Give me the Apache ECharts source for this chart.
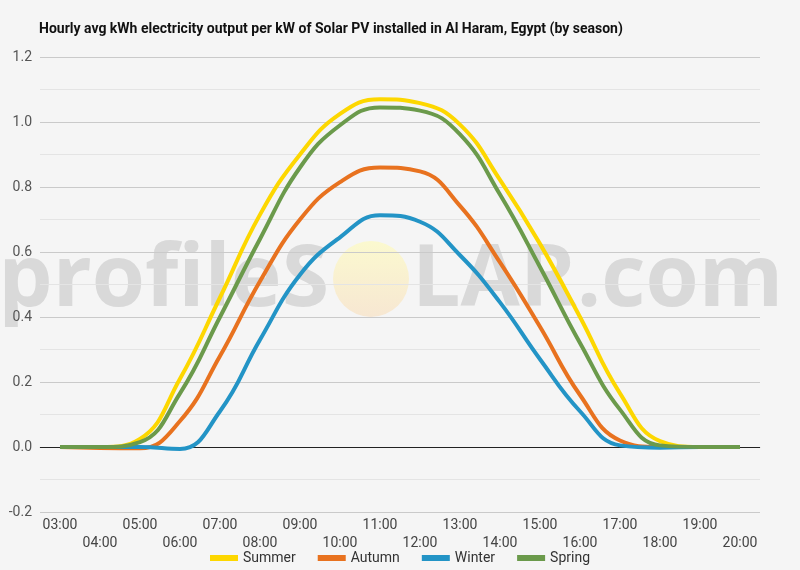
<!DOCTYPE html>
<html>
<head>
<meta charset="utf-8">
<script src="https://cdn.jsdelivr.net/npm/echarts@6/dist/echarts.min.js"></script>
<style>
  html, body { margin: 0; padding: 0; background: #f5f5f5; }
  #chart { width: 800px; height: 570px; }
</style>
</head>
<body>
<div id="chart"></div>
<script>
// hourly averages
const hours = ['03:00', '04:00', '05:00', '06:00', '07:00', '08:00', '09:00', '10:00', '11:00',
    '12:00', '13:00', '14:00', '15:00', '16:00', '17:00', '18:00', '19:00', '20:00'];
const summer = [0, 0, 0.025, 0.21, 0.46, 0.715, 0.90, 1.025, 1.07, 1.058, 0.992, 0.822, 0.625, 0.40, 0.165, 0.018, 0, 0];
const autumn = [0, -0.003, -0.004, 0.08, 0.28, 0.51, 0.70, 0.815, 0.86, 0.848, 0.742, 0.568, 0.37, 0.16, 0.02, 0, 0, 0];
const winter = [0, 0, 0, -0.006, 0.11, 0.33, 0.53, 0.645, 0.713, 0.693, 0.59, 0.445, 0.27, 0.11, 0.005, -0.002, 0, 0];
const spring = [0, 0, 0.015, 0.165, 0.40, 0.64, 0.86, 0.99, 1.045, 1.035, 0.962, 0.777, 0.554, 0.32, 0.115, 0.005, 0, 0];

const seasons = ['Summer', 'Autumn', 'Winter', 'Spring'];
const seasonData = [summer, autumn, winter, spring];
const colors = ['#fdd700', '#e8721f', '#2394c6', '#6b9a4b'];

const chart = echarts.init(document.getElementById('chart'));

const series = seasons.map((name, i) => ({
    name: name,
    type: 'line',
    data: seasonData[i],
    smooth: 0.45,
    symbol: 'none',
    lineStyle: { width: 4, color: colors[i] },
    itemStyle: { color: colors[i] },
    z: 3 + i
}));
// black zero line
series[0].markLine = {
    silent: true,
    symbol: 'none',
    label: { show: false },
    lineStyle: { color: '#222', width: 1, type: 'solid' },
    data: [{ yAxis: 0 }],
    z: 1
};

// watermark: "profileS" + sun + "LAR.com"
const wmText = { fontSize: 86, fontFamily: 'Open Sans', fontWeight: 'bold', fill: '#d9d9d9', verticalAlign: 'middle' };

chart.setOption({
    backgroundColor: '#f5f5f5',
    textStyle: { fontFamily: 'Roboto' },
    title: {
        text: 'Hourly avg kWh electricity output per kW of Solar PV installed in Al Haram, Egypt (by season)',
        left: 34,
        top: 17,
        textStyle: { fontSize: 14, fontWeight: 'bold', color: '#111', fontFamily: 'Roboto' }
    },
    graphic: [
        {
            type: 'text', z: 0,
            style: Object.assign({ x: 329, y: 281, text: 'profileS', align: 'right' }, wmText)
        },
        {
            type: 'circle', z: 0,
            shape: { cx: 371, cy: 279, r: 38 },
            style: {
                fill: new echarts.graphic.LinearGradient(0, 0, 0, 1, [
                    { offset: 0, color: '#fbf9cf' },
                    { offset: 1, color: '#f7e7d2' }
                ])
            }
        },
        {
            type: 'text', z: 0,
            style: Object.assign({ x: 412, y: 281, text: 'LAR.com', align: 'left' }, wmText)
        }
    ],
    legend: {
        data: seasons,
        bottom: 0,
        left: 'center',
        icon: 'rect',
        itemWidth: 28,
        itemHeight: 6,
        itemGap: 22,
        textStyle: { fontSize: 14, color: '#333' }
    },
    grid: { left: 40, right: 40, top: 57, bottom: 58 },
    xAxis: {
        type: 'category',
        data: hours,
        boundaryGap: true,
        axisLine: { show: true, lineStyle: { color: '#c8c8c8' } },
        axisTick: { show: false },
        axisLabel: {
            interval: 0,
            margin: 4,
            color: '#444',
            fontSize: 14,
            lineHeight: 18,
            formatter: (v, idx) => (idx % 2 ? '\n' + v : v)
        }
    },
    yAxis: {
        type: 'value',
        min: -0.2,
        max: 1.2,
        interval: 0.2,
        axisLine: { show: false },
        axisTick: { show: false },
        axisLabel: {
            margin: 8,
            color: '#555',
            fontSize: 14,
            formatter: v => v.toFixed(1)
        },
        splitLine: { lineStyle: { color: '#cacaca' } },
        minorTick: { show: false, splitNumber: 2 },
        minorSplitLine: { show: true, lineStyle: { color: '#e4e4e4' } }
    },
    series: series
});
</script>
</body>
</html>
